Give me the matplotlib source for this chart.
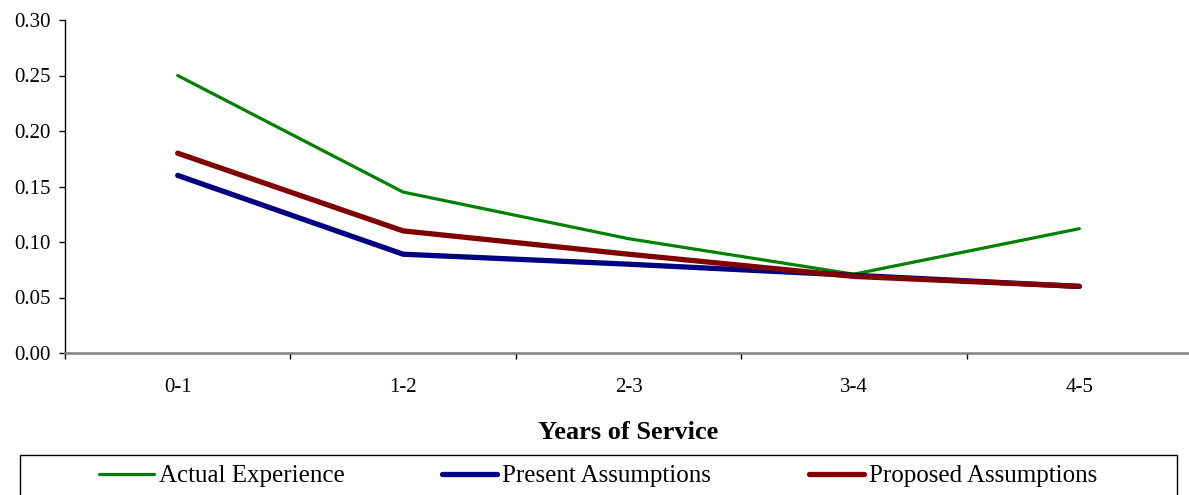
import matplotlib
matplotlib.use("Agg")
import matplotlib.pyplot as plt
from matplotlib.patches import Rectangle
import numpy as np

categories = ["0-1", "1-2", "2-3", "3-4", "4-5"]
actual = [0.250, 0.145, 0.103, 0.071, 0.112]
present = [0.160, 0.089, 0.080, 0.070, 0.060]
proposed = [0.180, 0.110, 0.089, 0.069, 0.060]
series_names = ["Actual Experience", "Present Assumptions", "Proposed Assumptions"]
y_ticks = [0.00, 0.05, 0.10, 0.15, 0.20, 0.25, 0.30]

plt.rcParams['font.family'] = ['Liberation Serif', 'DejaVu Serif']

W, H = 1189, 495
fig = plt.figure(figsize=(W / 100, H / 100), dpi=100)
ax = fig.add_axes([65 / W, 1 - 353 / H, (1192 - 65) / W, (353 - 20) / H])

x = np.arange(len(categories))
l1, = ax.plot(x, actual, color="#008000", lw=2.3, solid_capstyle="round", zorder=3)
l2, = ax.plot(x, present, color="#000080", lw=3.8, solid_capstyle="round", zorder=4)
l3, = ax.plot(x, proposed, color="#800000", lw=3.8, solid_capstyle="round", zorder=5)

ax.set_xlim(-0.5, len(categories) - 0.5)
ax.set_ylim(0, 0.30)
ax.set_yticks(y_ticks)
ax.set_yticklabels([f"{v:.2f}" for v in y_ticks])
ax.set_xticks(x)
ax.set_xticklabels(categories)
ax.set_xticks(np.arange(-0.5, len(categories) + 0.5, 1.0), minor=True)

ax.tick_params(axis="y", direction="out", length=4, width=1, pad=6, labelsize=15, colors="black")
ax.tick_params(axis="x", which="major", length=0, pad=18, labelsize=15)
ax.tick_params(axis="x", which="minor", direction="out", length=4, width=1, color="black")

for s in ["top", "right"]:
    ax.spines[s].set_visible(False)
ax.spines["left"].set_color("black")
ax.spines["left"].set_linewidth(1)
ax.spines["bottom"].set_color("#808080")
ax.spines["bottom"].set_linewidth(1.8)

ax.set_xlabel("Years of Service", fontsize=19, fontweight="bold", labelpad=17)

# legend frame
fig.patches.append(Rectangle((20 / W, -0.05), (1177 - 20) / W, 0.05 + 1 - 455 / H,
                             transform=fig.transFigure, fill=False,
                             edgecolor="black", linewidth=1.0))

leg = fig.legend([l1, l2, l3], series_names, loc="center",
                 bbox_to_anchor=(598 / W, 1 - 476 / H),
                 ncol=3, frameon=False, fontsize=18, handlelength=2.2,
                 handletextpad=0.2, columnspacing=3.9, borderpad=0, borderaxespad=0)

fig.savefig("out.png", dpi=100)
